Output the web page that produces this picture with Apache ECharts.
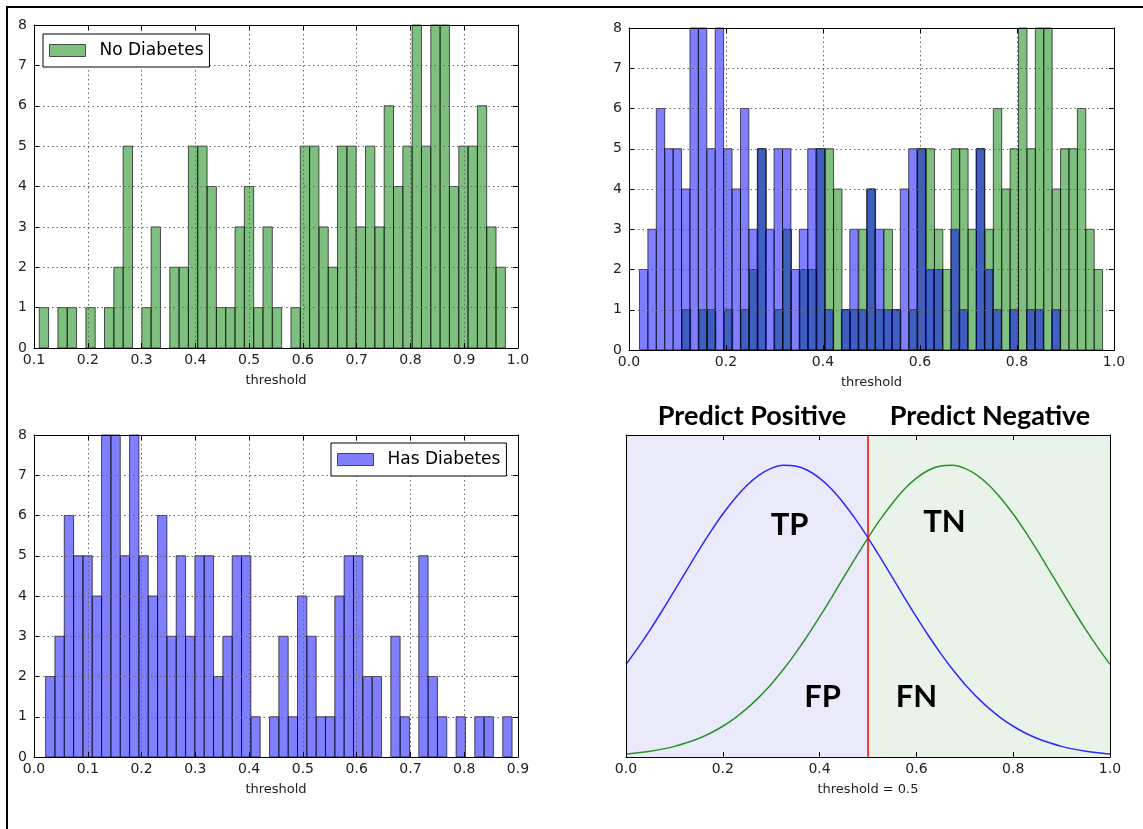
<!DOCTYPE html>
<html><head><meta charset="utf-8">
<script src="https://cdn.jsdelivr.net/npm/echarts@6/dist/echarts.min.js"></script>
<style>html,body{margin:0;padding:0;background:#fff}#c{width:1143px;height:829px}</style>
</head><body><div id="c"></div>
<script>
// ---- data ----
const noDiabetesCounts = [1,0,1,1,0,1,0,1,2,5, 0,1,3,0,2,2,5,5,4,1, 1,3,4,1,3,1,0,1,5,5, 3,2,5,5,3,5,3,6,4,5, 8,5,8,8,4,5,5,6,3,2];
const noDiabetesRange = [0.1098, 0.9765];
const hasDiabetesCounts = [2,3,6,5,5,4,8,8,5,8, 5,4,6,3,5,3,5,5,2,3, 5,5,1,0,1,3,1,4,3,1, 1,4,5,5,2,2,0,3,1,0, 5,2,1,0,1,0,1,1,0,1];
const hasDiabetesRange = [0.0216, 0.8890];
const curveX = [0,0.025,0.05,0.075,0.1,0.125,0.15,0.175,0.2,0.225,0.25,0.275,0.3,0.325,0.35,0.375,0.4,0.425,0.45,0.475,0.5,
                0.525,0.55,0.575,0.6,0.625,0.65,0.675,0.7,0.725,0.75,0.775,0.8,0.825,0.85,0.875,0.9,0.925,0.95,0.975,1.0];
const hasDiabetesCurve = [0.575,0.679,0.791,0.910,1.034,1.158,1.282,1.400,1.509,1.606,1.688,1.751,1.793,1.812,1.808,1.781,1.732,1.663,1.575,1.474,1.361,
                         1.241,1.117,0.992,0.870,0.753,0.644,0.543,0.452,0.372,0.302,0.242,0.191,0.149,0.115,0.088,0.066,0.049,0.036,0.026,0.018];
const noDiabetesCurve = [0.018,0.026,0.036,0.049,0.066,0.088,0.115,0.149,0.191,0.242,0.302,0.372,0.452,0.543,0.644,0.753,0.870,0.992,1.117,1.241,1.361,
                         1.474,1.575,1.663,1.732,1.781,1.808,1.812,1.793,1.751,1.688,1.606,1.509,1.400,1.282,1.158,1.034,0.910,0.791,0.679,0.575];
const threshold = 0.5;
const regionLabels = ['Predict Positive', 'Predict Negative'];
const quadrantLabels = [
  {name: 'TP', value: [0.338, 1.44]},
  {name: 'TN', value: [0.658, 1.46]},
  {name: 'FP', value: [0.406, 0.37]},
  {name: 'FN', value: [0.600, 0.37]}
];

// ---- styling ----
const FONT = 'DejaVu Sans';
const GREEN = 'rgba(0,128,0,0.5)';
const BLUE = 'rgba(0,0,255,0.5)';
const EDGE = 'rgba(0,0,0,0.65)';

function toBins(counts, range) {
  const w = (range[1] - range[0]) / counts.length;
  return counts.map((c, i) => [range[0] + i * w, range[0] + (i + 1) * w, c]);
}
function histSeries(name, counts, range, axisIdx, fill) {
  return {
    type: 'custom', name, xAxisIndex: axisIdx, yAxisIndex: axisIdx,
    data: toBins(counts, range),
    encode: {x: [0, 1], y: 2},
    itemStyle: {color: fill},
    z: 2,
    renderItem(params, api) {
      const h = api.value(2);
      if (!h) return null;
      const p0 = api.coord([api.value(0), h]);
      const p1 = api.coord([api.value(1), 0]);
      return {type: 'rect',
        shape: {x: p0[0], y: p0[1], width: p1[0] - p0[0], height: p1[1] - p0[1]},
        style: {fill, stroke: EDGE, lineWidth: 1}};
    }
  };
}
const splitStyle = {show: true, lineStyle: {color: '#666', width: 1, type: [1.5, 3]}};
const lbl = {color: '#222', fontSize: 14, fontFamily: FONT};
function xPair(gi, min, max, interval, name, grid, ticks) {
  return [
    {type: 'value', gridIndex: gi, min, max, interval, position: 'bottom', z: 5,
     axisLine: {show: true, onZero: false, lineStyle: {color: '#000', width: 1}},
     axisTick: {show: true, inside: true, length: 5, lineStyle: {color: '#000'}},
     axisLabel: Object.assign({margin: 5, formatter: v => v.toFixed(1)}, lbl),
     splitLine: grid ? splitStyle : {show: false},
     name, nameLocation: 'middle', nameGap: 26,
     nameTextStyle: {color: '#222', fontSize: 13, fontFamily: FONT}},
    {type: 'value', gridIndex: gi, min, max, interval, position: 'top', z: 5,
     axisLine: {show: true, onZero: false, lineStyle: {color: '#000', width: 1}},
     axisTick: {show: ticks, inside: true, length: 5, lineStyle: {color: '#000'}},
     axisLabel: {show: false}, splitLine: {show: false}}
  ];
}
function yPair(gi, min, max, interval, labels, grid) {
  return [
    {type: 'value', gridIndex: gi, min, max, interval, position: 'left', z: 5,
     axisLine: {show: true, onZero: false, lineStyle: {color: '#000', width: 1}},
     axisTick: {show: labels, inside: true, length: 5, lineStyle: {color: '#000'}},
     axisLabel: Object.assign({show: labels, margin: 7}, lbl),
     splitLine: grid ? splitStyle : {show: false}},
    {type: 'value', gridIndex: gi, min, max, interval, position: 'right', z: 5,
     axisLine: {show: true, onZero: false, lineStyle: {color: '#000', width: 1}},
     axisTick: {show: labels, inside: true, length: 5, lineStyle: {color: '#000'}},
     axisLabel: {show: false}, splitLine: {show: false}}
  ];
}
// axis indices: grid g uses x/y axis 2g (bottom/left) and 2g+1 (top/right)
const xAxis = [].concat(
  xPair(0, 0.1, 1.0, 0.1, 'threshold', true, true),
  xPair(1, 0.0, 1.0, 0.2, 'threshold', true, true),
  xPair(2, 0.0, 0.9, 0.1, 'threshold', true, true),
  xPair(3, 0.0, 1.0, 0.2, 'threshold = 0.5', false, true)
);
const yAxis = [].concat(
  yPair(0, 0, 8, 1, true, true),
  yPair(1, 0, 8, 1, true, true),
  yPair(2, 0, 8, 1, true, true),
  yPair(3, 0, 2, 0.5, false, false)
);
const legendBase = {
  orient: 'horizontal', itemWidth: 36, itemHeight: 12, itemGap: 0,
  padding: [8, 6, 8, 6], borderColor: '#000', borderWidth: 1, borderRadius: 0,
  backgroundColor: '#fff', selectedMode: false, z: 10,
  textStyle: {fontSize: 17, color: '#000', fontFamily: FONT, padding: [0, 0, 0, 9]}
};
const option = {
  animation: false,
  backgroundColor: '#fff',
  grid: [
    {left: 34, top: 25, width: 484, height: 323, outerBoundsMode: 'none'},
    {left: 629, top: 28, width: 485, height: 322, outerBoundsMode: 'none'},
    {left: 34, top: 435, width: 484, height: 322, outerBoundsMode: 'none'},
    {left: 626, top: 435, width: 484, height: 322, outerBoundsMode: 'none'}
  ],
  xAxis, yAxis,
  legend: [
    Object.assign({left: 43, top: 34, data: [{name: 'No Diabetes', icon: 'rect', itemStyle: {color: GREEN, borderColor: EDGE, borderWidth: 1}}]}, legendBase),
    Object.assign({left: 331, top: 443, data: [{name: 'Has Diabetes', icon: 'rect', itemStyle: {color: BLUE, borderColor: EDGE, borderWidth: 1}}]}, legendBase)
  ],
  series: [
    histSeries('No Diabetes', noDiabetesCounts, noDiabetesRange, 0, GREEN),
    histSeries('No Diabetes', noDiabetesCounts, noDiabetesRange, 2, GREEN),
    histSeries('Has Diabetes', hasDiabetesCounts, hasDiabetesRange, 2, BLUE),
    histSeries('Has Diabetes', hasDiabetesCounts, hasDiabetesRange, 4, BLUE),
    {type: 'line', name: 'regions', xAxisIndex: 6, yAxisIndex: 6, data: [], z: 1,
     markArea: {silent: true, data: [
       [{xAxis: 0, itemStyle: {color: '#eaeafb'}}, {xAxis: threshold}],
       [{xAxis: threshold, itemStyle: {color: '#eaf3ea'}}, {xAxis: 1}]
     ]}},
    {type: 'line', name: 'Has Diabetes density', xAxisIndex: 6, yAxisIndex: 6, z: 3,
     data: curveX.map((x, i) => [x, hasDiabetesCurve[i]]), smooth: 0.3, symbol: 'none',
     lineStyle: {color: '#2a2aff', width: 1.5}},
    {type: 'line', name: 'No Diabetes density', xAxisIndex: 6, yAxisIndex: 6, z: 3,
     data: curveX.map((x, i) => [x, noDiabetesCurve[i]]), smooth: 0.3, symbol: 'none',
     lineStyle: {color: '#2a922a', width: 1.5},
     markLine: {silent: true, symbol: 'none', label: {show: false},
       lineStyle: {color: '#ff0000', width: 1.5, type: 'solid'}, data: [{xAxis: threshold}]}},
    {type: 'scatter', name: 'quadrants', xAxisIndex: 6, yAxisIndex: 6, z: 4,
     symbolSize: 0, data: quadrantLabels, itemStyle: {opacity: 1},
     label: {show: true, position: 'inside', formatter: '{b}', fontSize: 31, opacity: 1,
       fontFamily: 'Lato', fontWeight: 'bold', color: '#000', textBorderWidth: 0}}
  ],
  graphic: [
    {type: 'rect', shape: {x: 6, y: 6, width: 1137, height: 2}, style: {fill: '#000'}},
    {type: 'rect', shape: {x: 6, y: 6, width: 2, height: 823}, style: {fill: '#000'}},
    {type: 'text', x: 752, y: 416, style: {text: regionLabels[0], fontSize: 27, fontWeight: 'bold', fontFamily: 'Lato', fill: '#000', align: 'center', verticalAlign: 'middle'}},
    {type: 'text', x: 990, y: 416, style: {text: regionLabels[1], fontSize: 27, fontWeight: 'bold', fontFamily: 'Lato', fill: '#000', align: 'center', verticalAlign: 'middle'}}
  ]
};
const chart = echarts.init(document.getElementById('c'), null, {renderer: 'canvas'});
chart.setOption(option);
</script></body></html>
